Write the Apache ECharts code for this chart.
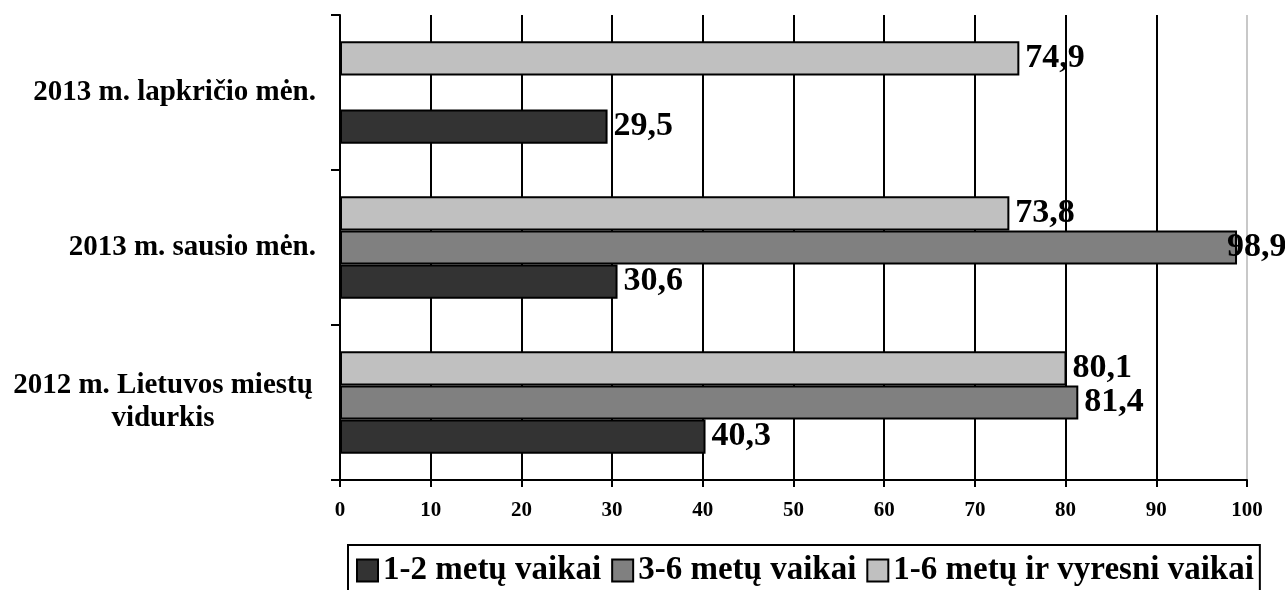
<!DOCTYPE html>
<html>
<head>
<meta charset="utf-8">
<script src="https://cdn.jsdelivr.net/npm/echarts@6/dist/echarts.min.js"></script>
<style>html,body{margin:0;padding:0;background:#fff;}#c{width:1285px;height:590px;}</style>
</head>
<body>
<div id="c"></div>
<script>
var categories = ['2012 m. Lietuvos miestų vidurkis', '2013 m. sausio mėn.', '2013 m. lapkričio mėn.'];
var seriesNames = ['1-2 metų vaikai', '3-6 metų vaikai', '1-6 metų ir vyresni vaikai'];
var kids12 = [40.3, 30.6, 29.5];
var kids36 = [81.4, 98.9, null];
var kids16 = [80.1, 73.8, 74.9];
var xTicks = [0, 10, 20, 30, 40, 50, 60, 70, 80, 90, 100];

var colors = ['#333333', '#808080', '#c0c0c0'];
var FONT = '"Liberation Serif", "Times New Roman", serif';

function fmtNum(v) { return String(v).replace('.', ','); }

function makeData(arr) {
  return arr.map(function (v) {
    if (v === null) return '-';
    var item = { value: v };
    if (v > 95) item.label = { offset: [-16, 0] };
    return item;
  });
}

var allValues = [kids12, kids36, kids16];
var series = allValues.map(function (arr, i) {
  return {
    name: seriesNames[i],
    type: 'bar',
    data: makeData(arr),
    barGap: '0%',
    barCategoryGap: '34%',
    itemStyle: { color: colors[i], borderColor: '#000', borderWidth: 2 },
    label: {
      show: true,
      position: 'right',
      distance: 6,
      color: '#000',
      fontFamily: FONT,
      fontWeight: 'bold',
      fontSize: 34,
      formatter: function (p) { return fmtNum(p.value); }
    },
    emphasis: { disabled: true }
  };
}).reverse();

var gridColors = xTicks.map(function (t) { return t === 100 ? '#c8c8c8' : '#000'; });

var chart = echarts.init(document.getElementById('c'));
chart.setOption({
  animation: false,
  backgroundColor: '#fff',
  grid: { left: 340, right: 38, top: 15, bottom: 110, containLabel: false },
  xAxis: {
    type: 'value',
    min: 0,
    max: 100,
    interval: 10,
    axisLine: { show: true, lineStyle: { color: '#000', width: 2 } },
    axisTick: { show: true, length: 7, lineStyle: { color: '#000', width: 2 } },
    axisLabel: {
      margin: 20,
      color: '#000',
      fontFamily: FONT,
      fontWeight: 'bold',
      fontSize: 21,
      formatter: function (v) { return String(v); }
    },
    splitLine: { show: true, lineStyle: { color: gridColors, width: 2 } }
  },
  yAxis: {
    type: 'category',
    data: categories,
    axisLine: { show: true, lineStyle: { color: '#000', width: 2 } },
    axisTick: { show: true, length: 9, lineStyle: { color: '#000', width: 2 } },
    axisLabel: {
      margin: 24,
      color: '#000',
      fontFamily: FONT,
      fontWeight: 'bold',
      fontSize: 29,
      lineHeight: 33,
      formatter: function (v) {
        if (v.indexOf('Lietuvos') >= 0) {
          return '{c|2012 m. Lietuvos miestų}\n{c|vidurkis}';
        }
        return v;
      },
      rich: {
        c: {
          width: 306, align: 'center', color: '#000',
          fontFamily: FONT, fontWeight: 'bold', fontSize: 29, lineHeight: 33
        }
      }
    }
  },
  legend: {
    data: seriesNames,
    left: 348,
    top: 545,
    orient: 'horizontal',
    borderColor: '#000',
    borderWidth: 2,
    padding: [9, 6, 9, 8],
    itemGap: 10,
    itemWidth: 21,
    itemHeight: 22,
    icon: 'rect',
    textStyle: { color: '#000', fontFamily: FONT, fontWeight: 'bold', fontSize: 33, padding: [0, 0, 0, 0] },
    selectedMode: false
  },
  series: series
});
</script>
</body>
</html>
